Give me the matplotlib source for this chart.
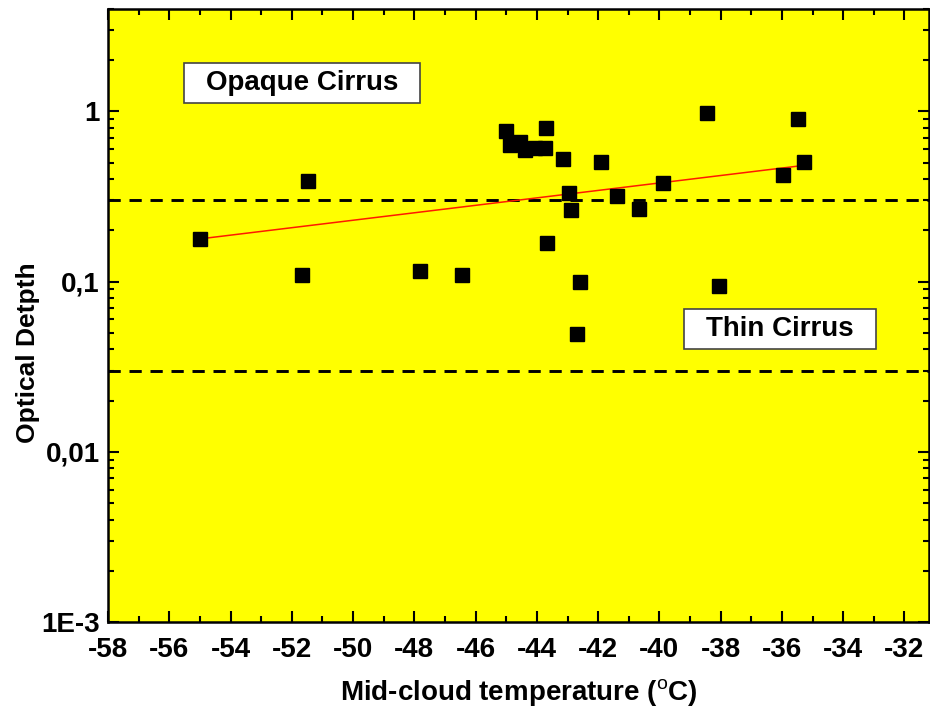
import numpy as np
import matplotlib
matplotlib.use("Agg")
import matplotlib.pyplot as plt
from matplotlib.patches import Rectangle
from matplotlib.ticker import FixedLocator, FixedFormatter, MultipleLocator, LogLocator, NullFormatter

plt.rcParams['font.family'] = ['Liberation Sans', 'DejaVu Sans']
plt.rcParams['mathtext.fontset'] = 'custom'
plt.rcParams['mathtext.rm'] = 'Liberation Sans'
plt.rcParams['mathtext.bf'] = 'Liberation Sans:bold'

# Mid-cloud temperature (deg C) and optical depth of each cirrus case
temperature = [-55.0, -51.67, -51.47, -47.82, -46.45, -45.01, -44.88, -44.56, -44.39,
               -44.07, -43.74, -43.71, -43.16, -42.96, -42.89, -43.68, -42.60, -42.70,
               -41.92, -41.39, -40.68, -39.89, -38.46, -38.07, -35.49, -35.29, -35.98]
optical_depth = [0.177, 0.110, 0.388, 0.115, 0.109, 0.763, 0.631, 0.658, 0.590,
                 0.606, 0.614, 0.795, 0.523, 0.330, 0.262, 0.168, 0.099, 0.049,
                 0.502, 0.317, 0.266, 0.378, 0.973, 0.094, 0.898, 0.502, 0.421]

# Class boundaries (opaque / thin / subvisual)
thresholds = [0.3, 0.03]

x_ticks = list(range(-58, -31, 2))
y_ticks = [1e-3, 1e-2, 1e-1, 1]
y_tick_labels = ['1E-3', '0,01', '0,1', '1']

class_labels = ['Opaque Cirrus', 'Thin Cirrus']
class_label_pos = [(-51.67, 1.46), (-36.06, 0.0525)]

fig = plt.figure(figsize=(9.30, 7.08), dpi=100)
ax = fig.add_axes([108 / 930, 1 - 622 / 708, (929 - 108) / 930, (622 - 9) / 708])
ax.set_facecolor('#ffff00')

ax.set_yscale('log')
ax.set_xlim(-58, -31.2)
ax.set_ylim(1e-3, 4)

for t in thresholds:
    ax.axhline(t, color='black', lw=2.1, ls=(0, (4.2, 3.0)), zorder=2)

# Exponential fit: linear regression of log10(depth) on temperature
xs = np.array(temperature)
ys = np.array(optical_depth)
slope, intercept = np.polyfit(xs, np.log10(ys), 1)
xfit = np.array([xs.min(), xs.max()])
ax.plot(xfit, 10 ** (intercept + slope * xfit), color='#ff1a00', lw=1.1, zorder=3)

ax.plot(xs, ys, ls='none', marker='s', ms=9.5, mfc='black', mec='black', zorder=4)

label_texts = []
for label, (lx, ly) in zip(class_labels, class_label_pos):
    label_texts.append(ax.text(lx, ly, label, ha='center', va='center', fontsize=20,
                               fontweight='bold', zorder=6))

ax.xaxis.set_major_locator(FixedLocator(x_ticks))
ax.xaxis.set_major_formatter(FixedFormatter([str(v) for v in x_ticks]))
ax.xaxis.set_minor_locator(MultipleLocator(1))
ax.yaxis.set_major_locator(FixedLocator(y_ticks))
ax.yaxis.set_major_formatter(FixedFormatter(y_tick_labels))
ax.yaxis.set_minor_locator(LogLocator(base=10, subs=np.arange(2, 10)))
ax.yaxis.set_minor_formatter(NullFormatter())

ax.tick_params(which='both', direction='in', top=True, right=True, width=1.5, color='black')
ax.tick_params(which='major', length=8)
ax.tick_params(which='minor', length=4)
ax.tick_params(axis='x', which='major', labelsize=20, pad=11)
ax.tick_params(axis='y', which='major', labelsize=20, pad=6)
for lab in ax.get_xticklabels() + ax.get_yticklabels():
    lab.set_fontweight('bold')

for sp in ax.spines.values():
    sp.set_linewidth(1.8)
    sp.set_color('black')

ax.set_xlabel(r'Mid-cloud temperature ($^{\mathrm{o}}$C)', fontsize=20, fontweight='bold', labelpad=10)
ax.set_ylabel('Optical Detpth', fontsize=19, fontweight='bold')
ax.yaxis.set_label_coords(-0.083, 0.44)

# White framed boxes behind the class labels, padded wider than tall
fig.canvas.draw()
renderer = fig.canvas.get_renderer()
pad_x, pad_y = 22, 7
for t in label_texts:
    bb = t.get_window_extent(renderer)
    x0, y0 = bb.x0 - pad_x, bb.y0 - pad_y
    w, h = bb.width + 2 * pad_x, bb.height + 2 * pad_y
    rect = Rectangle((x0 / fig.bbox.width, y0 / fig.bbox.height),
                     w / fig.bbox.width, h / fig.bbox.height,
                     transform=fig.transFigure, fc='white', ec='#444444', lw=1.2, zorder=5)
    ax.add_artist(rect)

fig.savefig('out.png', dpi=100)
